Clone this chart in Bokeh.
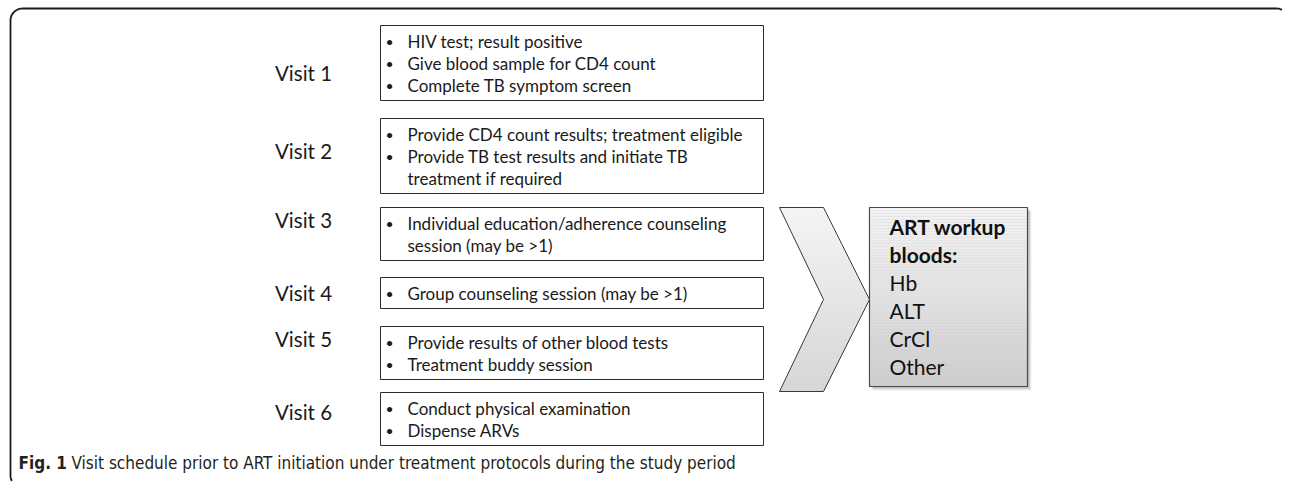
import numpy as np
from bokeh.plotting import figure
from bokeh.models import Range1d
from bokeh.core.properties import value
from bokeh.embed import file_html
from bokeh.resources import INLINE

# ---------------- data (text content) ----------------
visit_labels = ["Visit 1", "Visit 2", "Visit 3", "Visit 4", "Visit 5", "Visit 6"]
visit1_items = ["HIV test; result positive", "Give blood sample for CD4 count", "Complete TB symptom screen"]
visit2_items = ["Provide CD4 count results; treatment eligible",
                "Provide TB test results and initiate TB\ntreatment if required"]
visit3_items = ["Individual education/adherence counseling\nsession (may be >1)"]
visit4_items = ["Group counseling session (may be >1)"]
visit5_items = ["Provide results of other blood tests", "Treatment buddy session"]
visit6_items = ["Conduct physical examination", "Dispense ARVs"]
workup_title = ["ART workup", "bloods:"]
workup_items = ["Hb", "ALT", "CrCl", "Other"]
caption_bold = "Fig. 1"
caption_text = "Visit schedule prior to ART initiation under treatment protocols during the study period"

all_items = [visit1_items, visit2_items, visit3_items, visit4_items, visit5_items, visit6_items]

# ---------------- layout (pixel coordinates of the page) ----------------
box_tops = [25, 118, 207, 277, 326, 392]
label_ys = [72, 150, 219, 292, 338, 411]
box_x0, box_x1 = 380, 763
label_x = 303
bullet_x, text_x = 389, 407
pad, line_h = 15.5, 22
FONT = "Lato"

W, H = 1288, 488
p = figure(width=W, height=H, x_range=Range1d(0, W), y_range=Range1d(H, 0),
           output_backend="svg", toolbar_location=None, min_border=0)
p.axis.visible = False
p.grid.visible = False
p.outline_line_color = None
p.background_fill_color = "white"
p.border_fill_color = "white"

# ---------------- frame (rounded, open to right/bottom) ----------------
r = 12
x_left, y_top, y_bot, x_right = 10, 8, 487, 1276
t = np.linspace(np.pi, 1.5 * np.pi, 20)
arc_x = x_left + r + r * np.cos(t)
arc_y = y_top + r + r * np.sin(t)
t2 = np.linspace(1.5 * np.pi, 1.65 * np.pi, 6)
end_x = x_right + r * np.cos(t2)
end_y = y_top + r + r * np.sin(t2)
t3 = np.linspace(0.85 * np.pi, np.pi, 6)
beg_x = x_left + r + r * np.cos(t3)
beg_y = y_bot - r + r * np.sin(t3)
fx = np.concatenate([beg_x, arc_x, [x_right], end_x])
fy = np.concatenate([beg_y, arc_y, [y_top], end_y])
p.line(fx, fy, line_color="#1a1a1a", line_width=1.8)

# ---------------- visit labels ----------------
p.text(x=[label_x] * 6, y=label_ys, text=visit_labels, text_font=value(FONT),
       text_font_size="20.5px", text_align="center", text_baseline="middle", text_color="#1a1a1a")

# ---------------- visit boxes ----------------
bx, by, bt = [], [], []
tx, ty, tt = [], [], []
qt, qb = [], []
for top, items in zip(box_tops, all_items):
    lines = []
    for it in items:
        parts = it.split("\n")
        lines.append((True, parts[0]))
        for extra in parts[1:]:
            lines.append((False, extra))
    n = len(lines)
    qt.append(top)
    qb.append(top + 2 * pad + (n - 1) * line_h)
    for i, (bul, s) in enumerate(lines):
        y = top + pad + i * line_h
        if bul:
            bx.append(bullet_x); by.append(y); bt.append("•")
        tx.append(text_x); ty.append(y); tt.append(s)

p.quad(left=box_x0, right=box_x1, top=qt, bottom=qb, fill_color="white",
       line_color="#2b2b2b", line_width=1)
p.text(x=bx, y=by, text=bt, text_font=value(FONT), text_font_size="14px",
       text_align="center", text_baseline="middle", text_color="#1a1a1a")
p.text(x=tx, y=ty, text=tt, text_font=value(FONT), text_font_size="17px",
       text_align="left", text_baseline="middle", text_color="#1a1a1a")

# ---------------- chevron (gradient via strips) ----------------
cx0, cx1, ctip = 779, 823, 869
cy0, cy1 = 207, 391
cmid = (cy0 + cy1) / 2
def left_edge(y):
    return cx0 + (cx1 - cx0) * (1 - abs(y - cmid) / (cmid - cy0))
def right_edge(y):
    return cx1 + (ctip - cx1) * (1 - abs(y - cmid) / (cmid - cy0))
def gray(f, a, b):
    v = int(round(a + (b - a) * f))
    return "#%02x%02x%02x" % (v, v, v)

nstrip = 46
ys = np.linspace(cy0, cy1, nstrip + 1)
xs_list, ys_list, cols = [], [], []
for i in range(nstrip):
    y0, y1 = ys[i], ys[i + 1]
    pts_y = [y0, y1]
    if y0 < cmid < y1:
        pts_y = [y0, cmid, y1]
    xl = [left_edge(y) for y in pts_y]
    xr = [right_edge(y) for y in pts_y]
    xs_list.append(xl + xr[::-1])
    ys_list.append(pts_y + pts_y[::-1])
    cols.append(gray(i / (nstrip - 1), 244, 214))
p.patches(xs_list, ys_list, fill_color=cols, line_color=cols, line_width=0.6)
p.patch([cx0, cx1, ctip, cx1, cx0, cx1], [cy0, cy0, cmid, cy1, cy1, cmid],
        fill_color=None, line_color="#3a3a3a", line_width=1)

# ---------------- ART workup box ----------------
ax0, ax1, ay0, ay1 = 869, 1027, 207, 386
for off, alpha in [(4, 0.06), (3, 0.08), (2, 0.12)]:
    p.quad(left=ax0 + off, right=ax1 + off, top=ay0 + off, bottom=ay1 + off,
           fill_color="#000000", fill_alpha=alpha, line_color=None)
nb = 60
edges = np.linspace(ay0, ay1, nb + 1)
p.quad(left=ax0, right=ax1, top=edges[:-1], bottom=edges[1:],
       fill_color=[gray(i / (nb - 1), 243, 206) for i in range(nb)],
       line_color=None)
p.quad(left=ax0, right=ax1, top=ay0, bottom=ay1, fill_color=None,
       line_color="#4a4a4a", line_width=1.2)

art_x = 889
art_y0, art_dy = 226, 28
p.text(x=[art_x] * 2, y=[art_y0 + i * art_dy for i in range(2)], text=workup_title,
       text_font=value(FONT), text_font_style="bold", text_font_size="21px",
       text_baseline="middle", text_color="#111111")
p.text(x=[art_x] * 4, y=[art_y0 + (i + 2) * art_dy for i in range(4)], text=workup_items,
       text_font=value(FONT), text_font_size="21px",
       text_baseline="middle", text_color="#111111")

# ---------------- caption ----------------
CAP_FONT = "'DejaVu Sans Condensed', 'Roboto'"
p.text(x=[18], y=[462], text=[caption_bold], text_font=value(CAP_FONT),
       text_font_style="bold", text_font_size="17px", text_baseline="middle", text_color="#231f20")
p.text(x=[71], y=[462], text=[caption_text], text_font=value(CAP_FONT),
       text_font_size="17px", text_baseline="middle", text_color="#231f20")

open("out.html", "w").write(file_html(p, INLINE))
